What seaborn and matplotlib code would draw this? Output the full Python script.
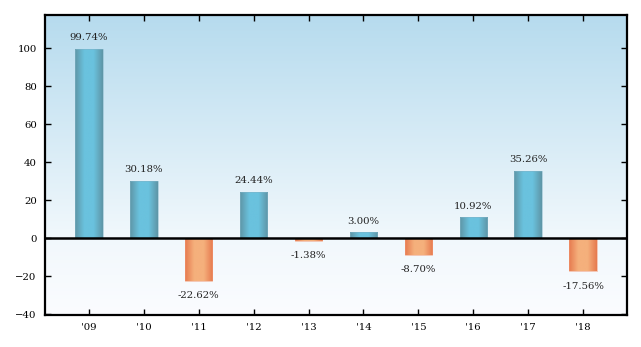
import numpy as np
import pandas as pd
import matplotlib
matplotlib.use("Agg")
import matplotlib.pyplot as plt
import seaborn as sns
from matplotlib.colors import LinearSegmentedColormap

years = ["'09", "'10", "'11", "'12", "'13", "'14", "'15", "'16", "'17", "'18"]
returns = [99.74, 30.18, -22.62, 24.44, -1.38, 3.00, -8.70, 10.92, 35.26, -17.56]
labels = ["99.74%", "30.18%", "-22.62%", "24.44%", "-1.38%", "3.00%", "-8.70%", "10.92%", "35.26%", "-17.56%"]
yticks = [-40, -20, 0, 20, 40, 60, 80, 100]

sns.set_style("white")
plt.rcParams['font.family'] = ['DejaVu Serif']

df = pd.DataFrame({"year": years, "ret": returns})

fig = plt.figure(figsize=(6.41, 3.47), dpi=100)
ax = fig.add_axes([45/641, 1 - 315/347, (627-45)/641, (315-15)/347])

ymin, ymax = -40.5, 117.4
# background gradient
bg = LinearSegmentedColormap.from_list("bg", [(0.0, "#fbfcff"), (0.26, "#f1f8fc"), (1.0, "#b6dbee")])
grad = np.linspace(0, 1, 256).reshape(-1, 1)
ax.imshow(grad, cmap=bg, aspect="auto", extent=[-0.8, 9.8, ymin, ymax], origin="lower", zorder=0)

sns.barplot(data=df, x="year", y="ret", ax=ax, width=0.5, color="#6cc3de", zorder=2)

blue = LinearSegmentedColormap.from_list("b", ["#5e95a6", "#6ac2de", "#6ac2de", "#5e95a6"])
orange = LinearSegmentedColormap.from_list("o", ["#e67a4f", "#f5b07c", "#f5b07c", "#e67a4f"])
hgrad = np.linspace(0, 1, 256).reshape(1, -1)
for p, v in zip(ax.patches, returns):
    x0 = p.get_x(); w = p.get_width(); h = p.get_height(); y0 = p.get_y()
    cmap = blue if v >= 0 else orange
    im = ax.imshow(hgrad, cmap=cmap, aspect="auto",
                   extent=[x0, x0 + w, min(y0, y0 + h), max(y0, y0 + h)], zorder=3)
    im.set_clip_path(p)
    p.set_facecolor("none")
    p.set_edgecolor((0.5, 0.7, 0.78, 0.6) if v >= 0 else (0.95, 0.6, 0.45, 0.6))
    p.set_linewidth(0.6)
    p.set_zorder(4)

for i, (v, t) in enumerate(zip(returns, labels)):
    if v >= 0:
        ax.text(i, v + 3.5, t, ha="center", va="bottom", fontsize=7.3, color="#222222", zorder=5)
    else:
        ax.text(i, v - 5.5, t, ha="center", va="top", fontsize=7.3, color="#222222", zorder=5)

ax.axhline(0, color="black", lw=1.8, zorder=6)
ax.set_xlim(-0.8, 9.8)
ax.set_ylim(ymin, ymax)
ax.set_yticks(yticks)
ax.set_xlabel("")
ax.set_ylabel("")
ax.tick_params(direction="in", length=4, width=1, top=True, right=True, bottom=True, left=True,
               labelsize=7.3, colors="black", pad=6)
for s in ax.spines.values():
    s.set_visible(True)
    s.set_linewidth(1.6)
    s.set_color("black")
    s.set_zorder(7)

fig.savefig("out.png", dpi=100)
